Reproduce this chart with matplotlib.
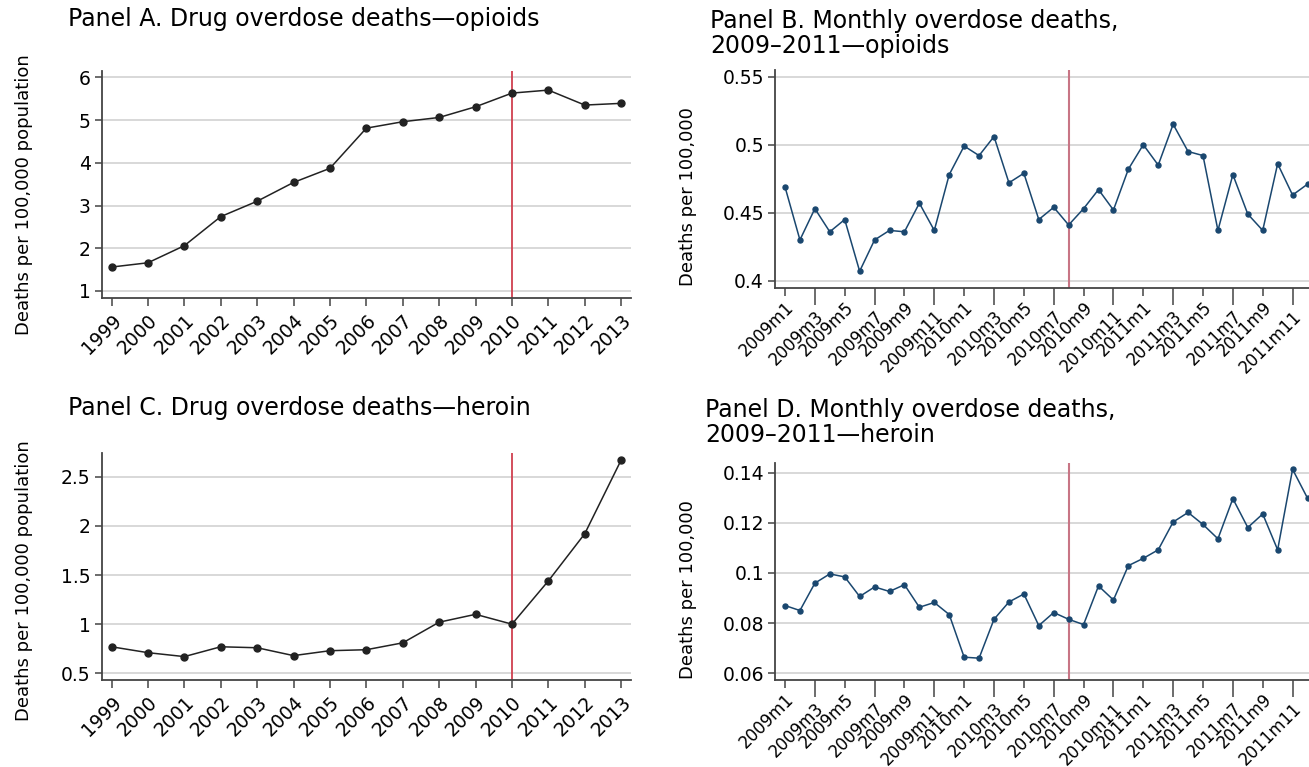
import numpy as np
import matplotlib
matplotlib.use('Agg')
import matplotlib.pyplot as plt

plt.rcParams['font.family'] = ['DejaVu Sans']

# annual rates, deaths per 100,000
years = list(range(1999, 2014))
opioid_annual = [1.56, 1.66, 2.06, 2.74, 3.10, 3.54, 3.87, 4.81, 4.96, 5.06, 5.31, 5.63, 5.70, 5.35, 5.39]
heroin_annual = [0.77, 0.71, 0.67, 0.77, 0.76, 0.68, 0.73, 0.74, 0.81, 1.02, 1.10, 1.00, 1.44, 1.92, 2.67]

# monthly rates 2009m1 - 2011m12
opioid_monthly = [0.469, 0.430, 0.453, 0.436, 0.445, 0.407, 0.430, 0.437, 0.436, 0.457, 0.437, 0.478,
                  0.499, 0.492, 0.506, 0.472, 0.479, 0.445, 0.454, 0.441, 0.453, 0.467, 0.452, 0.482,
                  0.500, 0.485, 0.515, 0.495, 0.492, 0.437, 0.478, 0.449, 0.437, 0.486, 0.463, 0.471]
heroin_monthly = [0.0870, 0.0850, 0.0959, 0.0996, 0.0984, 0.0906, 0.0944, 0.0926, 0.0953, 0.0863, 0.0882, 0.0834,
                  0.0664, 0.0660, 0.0815, 0.0884, 0.0916, 0.0790, 0.0842, 0.0815, 0.0794, 0.0948, 0.0892, 0.1029,
                  0.1058, 0.1092, 0.1203, 0.1241, 0.1193, 0.1136, 0.1296, 0.1181, 0.1235, 0.1092, 0.1413, 0.1298]
month_labels = ['%dm%d' % (y, m) for y in (2009, 2010, 2011) for m in range(1, 13)]
break_year = 2010
break_month = 19  # 2010m8

W, H = 1309, 767
fig = plt.figure(figsize=(W / 100, H / 100), dpi=100)


def box(l, t, r, b):
    return [l / W, 1 - b / H, (r - l) / W, (b - t) / H]


grid_c = '#d6d6d6'
spine_c = '#444444'


def style(ax):
    for s in ['top', 'right']:
        ax.spines[s].set_visible(False)
    for s in ['left', 'bottom']:
        ax.spines[s].set_color(spine_c)
        ax.spines[s].set_linewidth(1.3)
    ax.yaxis.grid(True, color=grid_c, lw=1.3)
    ax.set_axisbelow(True)
    ax.tick_params(axis='y', length=5, width=1.1, color=spine_c, labelsize=13.5, pad=3)


def annual(ax, vals, yticks, ylim, ylabel_y):
    style(ax)
    ax.plot(years, vals, color='#222222', lw=1.1, marker='o', ms=5, zorder=3)
    ax.axvline(break_year, color='#d0404f', lw=1.3, zorder=2)
    ax.set_xlim(1998.73, 2013.27)
    ax.set_ylim(*ylim)
    ax.set_yticks(yticks)
    ax.set_yticklabels([('%g' % v) for v in yticks])
    ax.set_xticks(years)
    ax.set_xticklabels([str(y) for y in years], rotation=45, ha='right',
                       rotation_mode='anchor', fontsize=13.5)
    ax.tick_params(axis='x', length=6, width=1.1, color=spine_c, pad=3)
    fig.text(24 / W, 1 - ylabel_y / H, 'Deaths per 100,000 population', rotation=90,
             ha='center', va='center', fontsize=13)


def monthly(ax, vals, yticks, ylim, ylabel_y):
    style(ax)
    x = np.arange(len(vals))
    ax.plot(x, vals, color='#1a476f', lw=1.1, marker='o', ms=3.6, zorder=3)
    ax.axvline(break_month, color='#c87585', lw=1.5, zorder=2)
    ax.set_xlim(-0.67, 35.1)
    ax.set_ylim(*ylim)
    ax.set_yticks(yticks)
    ax.set_yticklabels([('%g' % v) for v in yticks])
    near = list(range(0, 36, 4))
    far = list(range(2, 36, 4))
    ax.set_xticks(near)
    ax.set_xticklabels([month_labels[i] for i in near], rotation=45, ha='right',
                       rotation_mode='anchor', fontsize=12)
    ax.set_xticks(far, minor=True)
    ax.set_xticklabels([month_labels[i] for i in far], minor=True, rotation=45, ha='right',
                       rotation_mode='anchor', fontsize=12)
    ax.tick_params(axis='x', which='major', length=5.5, width=1.1, color=spine_c, pad=2)
    ax.tick_params(axis='x', which='minor', length=12, width=1.1, color=spine_c, pad=2)
    fig.text(688 / W, 1 - ylabel_y / H, 'Deaths per 100,000', rotation=90,
             ha='center', va='center', fontsize=13)


axA = fig.add_axes(box(101.7, 71, 631, 298))
annual(axA, opioid_annual, [1, 2, 3, 4, 5, 6], (0.836, 6.147), 195)

axC = fig.add_axes(box(101.7, 453, 631, 680))
annual(axC, heroin_annual, [0.5, 1, 1.5, 2, 2.5], (0.432, 2.741), 581)

axB = fig.add_axes(box(775, 70, 1309, 287.7))
monthly(axB, opioid_monthly, [0.4, 0.45, 0.5, 0.55], (0.3949, 0.5549), 197)

axD = fig.add_axes(box(775, 463.3, 1309, 680))
monthly(axD, heroin_monthly, [0.06, 0.08, 0.1, 0.12, 0.14], (0.0573, 0.1437), 590)

tfs = 17
fig.text(68 / W, 1 - 7 / H, 'Panel A. Drug overdose deaths\u2014opioids', ha='left', va='top', fontsize=tfs)
fig.text(68 / W, 1 - 396 / H, 'Panel C. Drug overdose deaths\u2014heroin', ha='left', va='top', fontsize=tfs)
fig.text(710 / W, 1 - 9 / H, 'Panel B. Monthly overdose deaths,\n2009\u20132011\u2014opioids',
         ha='left', va='top', fontsize=tfs, linespacing=1.05)
fig.text(705 / W, 1 - 398 / H, 'Panel D. Monthly overdose deaths,\n2009\u20132011\u2014heroin',
         ha='left', va='top', fontsize=tfs, linespacing=1.05)

fig.savefig('out.png', dpi=100, facecolor='white')
